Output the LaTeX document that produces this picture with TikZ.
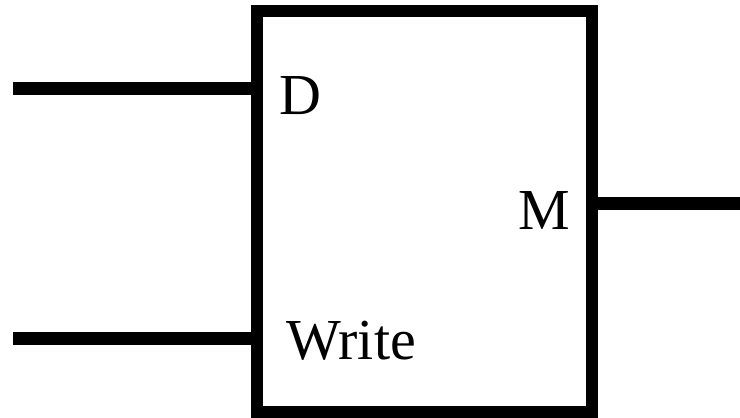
\documentclass[tikz,border=0pt]{standalone}
\usepackage{fontspec}
\setmainfont{Liberation Serif}
\usetikzlibrary{positioning}

\begin{document}
\begin{tikzpicture}[x=1pt,y=-1pt,font=\fontsize{58}{62}\selectfont,
  wire/.style={line width=13pt},
  blk/.style={draw,line width=12pt,inner sep=0pt,outer sep=0pt,minimum width=335pt,minimum height=401pt}]
  \useasboundingbox (0,0) rectangle (740,418);
  \node[blk] (mem) at (424.5,211.5) {};
  \coordinate (inD) at (13,88);
  \coordinate (inW) at (13,338);
  \coordinate (outM) at (740,203);
  \node[anchor=base west,inner sep=0pt] (lD) at (279,114) {D};
  \node[anchor=base west,inner sep=0pt] (lM) at (518,229) {M};
  \node[anchor=base west,inner sep=0pt] (lW) at (286,359) {Write};
  \draw[wire] (inD) -- (mem.west |- inD);
  \draw[wire] (inW) -- (mem.west |- inW);
  \draw[wire] (mem.east |- outM) -- (outM);
\end{tikzpicture}
\end{document}
